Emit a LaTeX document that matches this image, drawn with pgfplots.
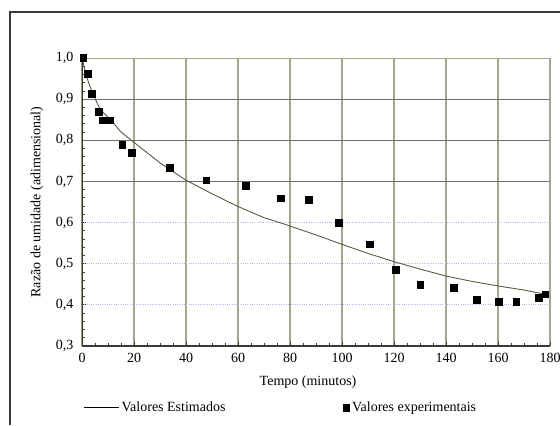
\documentclass[border=0pt]{standalone}
\usepackage{pgfplots}
\pgfplotsset{compat=1.18}
\usepackage{fontspec}
\setmainfont{Liberation Serif}
\definecolor{khaki}{HTML}{A8A48A}
\definecolor{gridgray}{HTML}{707070}
\definecolor{gridblue}{HTML}{B4B4E6}
\definecolor{curvecol}{HTML}{55553F}
\definecolor{axdark}{HTML}{3A3A3A}
\newcommand{\lf}{\fontsize{10.5}{12.5}\selectfont}
\begin{document}
\begin{tikzpicture}
\begin{axis}[
  scale only axis,
  width=351pt, height=216pt,
  xmin=0, xmax=180, ymin=0.3, ymax=1.0,
  axis line style={draw=none},
  xtick={0,20,...,180},
  ytick={0.3,0.4,...,1.0},
  minor x tick num=3,
  minor y tick num=4,
  xtick pos=left, ytick pos=left,
  tick align=inside,
  major tick length=3pt, minor tick length=2.5pt,
  every tick/.style={axdark, line width=0.6pt},
  xmajorgrids,
  x grid style={khaki, line width=0.8pt},
  /pgf/number format/assume math mode=true,
  /pgf/number format/use comma,
  yticklabel style={/pgf/number format/fixed, /pgf/number format/fixed zerofill, /pgf/number format/precision=1, font=\lf, xshift=-3pt},
  xticklabel style={font=\lf, yshift=-2pt},
  xlabel={Tempo (minutos)},
  ylabel={Razão de umidade (adimensional)},
  xlabel style={font=\lf, at={(axis description cs:0.483,-0.125)}, anchor=center},
  ylabel style={font=\lf, at={(axis description cs:-0.096,0.5)}, anchor=center},
  legend columns=2,
  legend style={draw=none, fill=none, font=\lf,
    at={(axis description cs:-0.005,-0.215)}, anchor=west,
    /tikz/every even column/.append style={column sep=86pt}},
  legend cell align=left,
]
\draw[gridgray, line width=0.8pt] (axis cs:0,0.7) -- (axis cs:180,0.7);
\draw[gridgray, line width=0.8pt] (axis cs:0,0.8) -- (axis cs:180,0.8);
\draw[gridgray, line width=0.8pt] (axis cs:0,0.9) -- (axis cs:180,0.9);
\draw[gridblue, densely dotted, line width=0.7pt] (axis cs:0,0.6) -- (axis cs:180,0.6);
\draw[gridblue, densely dotted, line width=0.7pt] (axis cs:0,0.5) -- (axis cs:180,0.5);
\draw[gridblue, densely dotted, line width=0.7pt] (axis cs:0,0.4) -- (axis cs:180,0.4);
\addplot[curvecol, line width=0.65pt, legend image code/.code={\draw[black, line width=0.7pt] (-0.05cm,0) -- (0.85cm,0);}] coordinates {
(0,1.0) (2,0.95) (4,0.915) (7,0.875) (11,0.85) (15,0.82) (20,0.795)
(30,0.745) (40,0.703) (50,0.67) (60,0.639) (70,0.612) (77,0.598)
(90,0.57) (100,0.547) (110,0.525) (120,0.505) (130,0.487) (140,0.470)
(150,0.457) (160,0.446) (170,0.436) (178,0.426)};
\addlegendentry{Valores Estimados}
\addplot[only marks, mark=square*, mark size=2.5pt, black] coordinates {
(0.5,1.0) (2.2,0.962) (3.8,0.913) (6.4,0.870) (8.1,0.849) (10.9,0.849)
(15.5,0.789) (19.2,0.770) (33.7,0.733) (47.8,0.703) (63.1,0.689)
(76.5,0.659) (87.2,0.655) (98.7,0.600) (110.6,0.547) (120.6,0.486)
(130.1,0.449) (143,0.441) (151.8,0.412) (160.4,0.408) (167,0.408)
(175.6,0.418) (178.2,0.426)};
\addlegendentry{Valores experimentais}
\draw[khaki, line width=0.9pt] (axis cs:0,1.0) -- (axis cs:180,1.0) -- (axis cs:180,0.3);
\draw[axdark, line width=1.1pt] (axis cs:0,1.0) -- (axis cs:0,0.3) -- (axis cs:180,0.3);
\end{axis}
\begin{scope}[x=0.75pt,y=0.75pt]
\draw[axdark, line width=0.9pt] (-72,-79) -- (-72,334) -- (478,334);
\pgfresetboundingbox
\path (-82,-79) rectangle (478,346);
\end{scope}
\end{tikzpicture}
\end{document}
